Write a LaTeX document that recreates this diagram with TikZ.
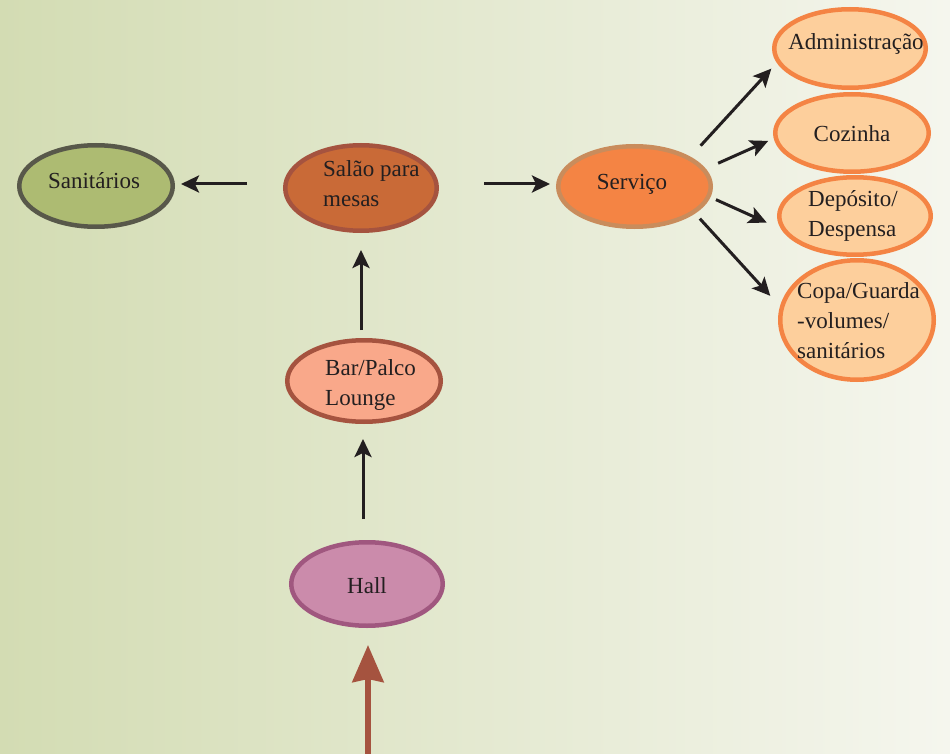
\documentclass[tikz,border=0pt]{standalone}
\usepackage{fontspec}
\setmainfont{Liberation Serif}
\usetikzlibrary{shapes.geometric,arrows.meta}

\definecolor{bgleft}{RGB}{211,220,179}
\definecolor{bgright}{RGB}{245,246,238}
\definecolor{ink}{RGB}{35,31,32}
\definecolor{sanfill}{RGB}{173,187,114}
\definecolor{sanline}{RGB}{88,88,74}
\definecolor{salfill}{RGB}{201,106,55}
\definecolor{brownline}{RGB}{165,83,63}
\definecolor{servfill}{RGB}{244,132,68}
\definecolor{servline}{RGB}{201,140,92}
\definecolor{peach}{RGB}{253,207,156}
\definecolor{orangeline}{RGB}{244,132,68}
\definecolor{barfill}{RGB}{249,168,138}
\definecolor{hallfill}{RGB}{203,139,171}
\definecolor{hallline}{RGB}{160,87,127}

% left-aligned multi-line label, baseline on the first line
\newcommand\lbltab[1]{\begin{tabular}[t]{@{}l@{}}#1\end{tabular}}

\begin{document}
\begin{tikzpicture}[x=1pt,y=-1pt,
  oval/.style={ellipse, line width=4.5pt, inner sep=0pt},
  lbl/.style={inner sep=0pt, text=ink, font=\fontsize{23}{30}\selectfont},
  arr/.style={draw=ink, line width=3pt, -{Stealth[length=18pt,width=17pt,inset=4pt]}},
  entryarrow/.style={draw=brownline, line width=6pt, -{Stealth[length=37pt,width=31pt,inset=3pt]}}]

  % background
  \useasboundingbox (0,0) rectangle (950,754);
  \shade[left color=bgleft, right color=bgright] (0,0) rectangle (950,754);

  % rooms
  \node[oval, fill=sanfill, draw=sanline, minimum width=153.5pt, minimum height=81.5pt] (sanit) at (96,186) {};
  \node[oval, fill=salfill, draw=brownline, minimum width=151.5pt, minimum height=85.5pt] (salao) at (361,188) {};
  \node[oval, fill=servfill, draw=servline, minimum width=152.5pt, minimum height=80.5pt] (serv) at (634.5,186.5) {};
  \node[oval, fill=peach, draw=orangeline, minimum width=151.5pt, minimum height=78.5pt] (adm) at (850,48.5) {};
  \node[oval, fill=peach, draw=orangeline, minimum width=153.5pt, minimum height=77.5pt] (coz) at (852,133) {};
  \node[oval, fill=peach, draw=orangeline, minimum width=151.5pt, minimum height=77.5pt] (dep) at (855,216) {};
  \node[oval, fill=peach, draw=orangeline, minimum width=153.5pt, minimum height=119.5pt] (copa) at (857,320) {};
  \node[oval, fill=barfill, draw=brownline, minimum width=153.5pt, minimum height=81.5pt] (bar) at (364,381) {};
  \node[oval, fill=hallfill, draw=hallline, minimum width=151.5pt, minimum height=83.5pt] (hall) at (367,584) {};

  % labels
  \node[lbl, anchor=base] (sanit-t) at (94,189) {Sanitários};
  \node[lbl, anchor=base west] (salao-t) at (323,177) {\lbltab{Salão para\\mesas}};
  \node[lbl, anchor=base] (serv-t) at (632,190) {Serviço};
  \node[lbl, anchor=base] (adm-t) at (856,50) {Administração};
  \node[lbl, anchor=base] (coz-t) at (852,142) {Cozinha};
  \node[lbl, anchor=base west] (dep-t) at (808,207) {\lbltab{Depósito/\\Despensa}};
  \node[lbl, anchor=base west] (copa-t) at (797,298) {\lbltab{Copa/Guarda\\-volumes/\\sanitários}};
  \node[lbl, anchor=base west] (bar-t) at (325,375) {\lbltab{Bar/Palco\\Lounge}};
  \node[lbl, anchor=base] (hall-t) at (367,593) {Hall};

  % circulation
  \draw[arr, shorten <=36pt, shorten >=6pt] ([yshift=4pt]salao.west) -- ([yshift=2pt]sanit.east);
  \draw[arr, shorten <=45pt, shorten >=6pt] ([yshift=4pt]salao.east) -- ([yshift=2.5pt]serv.west);
  \draw[arr, shorten <=8pt, shorten >=17pt] ([xshift=-3pt]bar.north) -- (salao.south);
  \draw[arr, shorten <=21pt, shorten >=15pt] ([xshift=-4pt]hall.north) -- ([xshift=-1pt]bar.south);

  \draw[arr, shorten <=15pt, shorten >=8pt] (serv.28) -- (adm.191.7);
  \draw[arr, shorten <=13.5pt, shorten >=6pt] (serv.14.3) -- (coz.184);
  \draw[arr, shorten <=6pt, shorten >=15.7pt] (serv.-8.2) -- (dep.190.4);
  \draw[arr, shorten <=7pt, shorten >=14.3pt] (serv.-24.5) -- (copa.170.9);

  % entrance
  \coordinate (entry) at (368,770);
  \draw[entryarrow, shorten >=17pt] (entry) -- (entry |- hall.south);
\end{tikzpicture}
\end{document}
